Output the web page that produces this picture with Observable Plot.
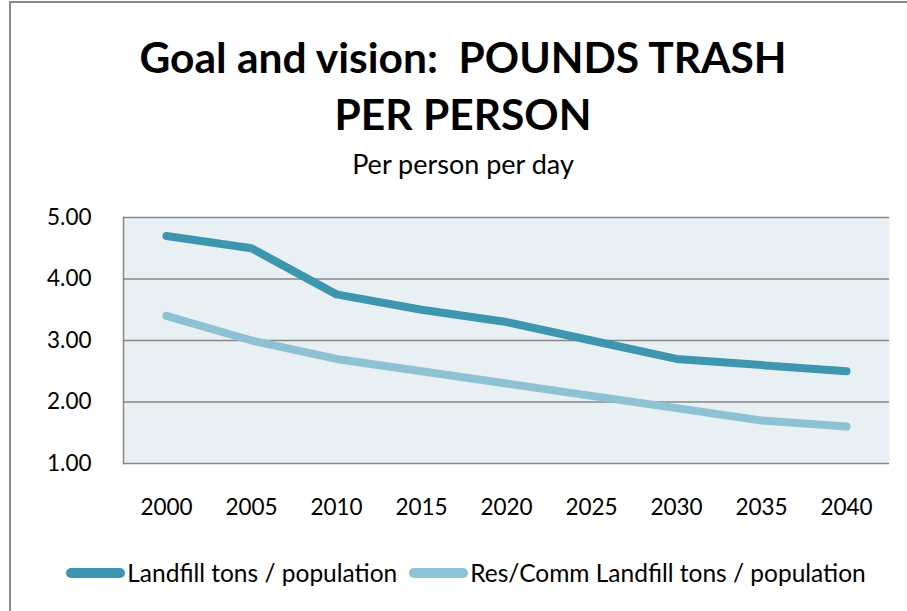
<!DOCTYPE html>
<html>
<head>
<meta charset="utf-8">
<script src="https://cdn.jsdelivr.net/npm/d3@7"></script>
<script src="https://cdn.jsdelivr.net/npm/@observablehq/plot@0.6"></script>
<style>
  html, body { margin: 0; padding: 0; background: #fff; }
  body { width: 907px; height: 611px; position: relative; overflow: hidden; font-family: Lato, "Open Sans", sans-serif; color: #000; }
  #border { position: absolute; left: 9px; top: 1px; width: 920px; height: 640px; border: 2px solid #8a8a8a; box-sizing: border-box; }
  #title { position: absolute; left: 0; top: 28px; width: 926px; text-align: center; font-weight: 700; font-size: 42.5px; line-height: 57px; white-space: pre; }
  #subtitle { position: absolute; left: 0; top: 148px; width: 926px; text-align: center; font-size: 27px; line-height: 32.4px; white-space: pre; }
  #chart { position: absolute; left: 0; top: 190px; }
  #legend { position: absolute; left: 0; top: 559px; width: 932px; display: flex; justify-content: center; align-items: center; font-size: 24.5px; line-height: 28.8px; white-space: pre; }
  .sw { width: 59px; height: 10px; border-radius: 5px; margin-right: 2px; }
  .item { display: flex; align-items: center; margin: 0 6px; }
</style>
</head>
<body>
<div id="border"></div>
<div id="title"></div>
<div id="subtitle"></div>
<div id="chart"></div>
<div id="legend"></div>
<script>
const titleLines = ["Goal and vision:  POUNDS TRASH", "PER PERSON"];
const subtitle = "Per person per day";
const years = ["2000", "2005", "2010", "2015", "2020", "2025", "2030", "2035", "2040"];
const landfill = [4.70, 4.50, 3.75, 3.50, 3.30, 3.00, 2.70, 2.60, 2.50];
const resComm = [3.40, 3.00, 2.70, 2.50, 2.30, 2.10, 1.90, 1.70, 1.60];
const yTicks = [1, 2, 3, 4, 5];
const seriesNames = ["Landfill tons / population", "Res/Comm Landfill tons / population"];
const seriesColors = ["#3d96ae", "#8fc1d4"];

document.getElementById("title").textContent = titleLines.join("\n");
document.getElementById("subtitle").textContent = subtitle;

const data = years.flatMap((yr, i) => [
  {year: yr, value: landfill[i], series: seriesNames[0]},
  {year: yr, value: resComm[i], series: seriesNames[1]}
]);

const chart = Plot.plot({
  width: 907,
  height: 340,
  marginLeft: 123,
  marginRight: 18,
  marginTop: 27,
  marginBottom: 67,
  style: {fontFamily: "Lato, sans-serif", fontSize: "22.5px", color: "#000", background: "transparent", overflow: "visible"},
  x: {type: "point", domain: years, padding: 0.5, label: null},
  y: {domain: [1, 5], label: null},
  color: {domain: seriesNames, range: seriesColors},
  marks: [
    Plot.frame({fill: "#e8f0f4", stroke: null}),
    Plot.ruleY(yTicks, {stroke: "#878787", strokeWidth: 1.5, strokeOpacity: 1}),
    Plot.frame({anchor: "left", stroke: "#878787", strokeWidth: 1.5, strokeOpacity: 1}),
    Plot.line(data, {x: "year", y: "value", z: "series", stroke: "series", strokeWidth: 8, strokeLinecap: "round", strokeLinejoin: "round"}),
    Plot.axisY(yTicks, {tickSize: 0, tickPadding: 32, tickFormat: d => d.toFixed(2), fontSize: 22.5, label: null}),
    Plot.axisX({tickSize: 0, tickPadding: 36, fontSize: 22.5, label: null})
  ]
});
document.getElementById("chart").appendChild(chart);

const legend = document.getElementById("legend");
seriesNames.forEach((name, i) => {
  const item = document.createElement("div");
  item.className = "item";
  const sw = document.createElement("div");
  sw.className = "sw";
  sw.style.background = seriesColors[i];
  const label = document.createElement("span");
  label.textContent = name;
  item.appendChild(sw);
  item.appendChild(label);
  legend.appendChild(item);
});
</script>
</body>
</html>
